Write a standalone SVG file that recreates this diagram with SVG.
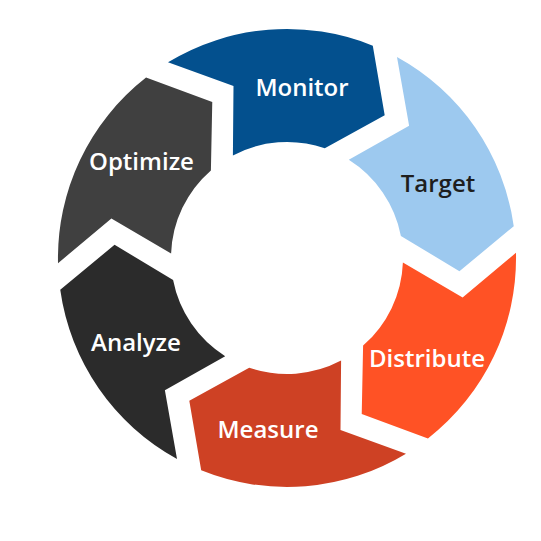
<svg xmlns="http://www.w3.org/2000/svg" xmlns:xlink="http://www.w3.org/1999/xlink" width="541" height="541" viewBox="0 0 541 541">
  <style>
    .lbl { font-family: "Open Sans", "Noto Sans", "Liberation Sans", sans-serif; font-weight: 600; font-size: 24px; text-anchor: middle; fill: #ffffff; }
    .dark { fill: #1e1e1e; }
  </style>
  <defs>
    <path id="seg" d="M 168.0 62.3 A 229 229 0 0 1 372.8 45.7 L 384.7 115.3 L 324.8 148.3 A 116 116 0 0 0 232.9 155.4 L 233.5 86.1 Z"/>
  </defs>
  <rect width="541" height="541" fill="#ffffff"/>
  <g id="connectors"></g>
  <g id="monitor">
    <use xlink:href="#seg" fill="#03508E"/>
    <text class="lbl" x="302" y="96">Monitor</text>
  </g>
  <g id="target">
    <use xlink:href="#seg" fill="#9DC9EF" transform="rotate(60 287 258)"/>
    <text class="lbl dark" x="438" y="192">Target</text>
  </g>
  <g id="distribute">
    <use xlink:href="#seg" fill="#FF5225" transform="rotate(120 287 258)"/>
    <text class="lbl" x="427" y="367">Distribute</text>
  </g>
  <g id="measure">
    <use xlink:href="#seg" fill="#CE4124" transform="rotate(180 287 258)"/>
    <text class="lbl" x="268" y="438">Measure</text>
  </g>
  <g id="analyze">
    <use xlink:href="#seg" fill="#2B2B2B" transform="rotate(240 287 258)"/>
    <text class="lbl" x="136" y="351">Analyze</text>
  </g>
  <g id="optimize">
    <use xlink:href="#seg" fill="#404040" transform="rotate(300 287 258)"/>
    <text class="lbl" x="141.5" y="170">Optimize</text>
  </g>
</svg>
